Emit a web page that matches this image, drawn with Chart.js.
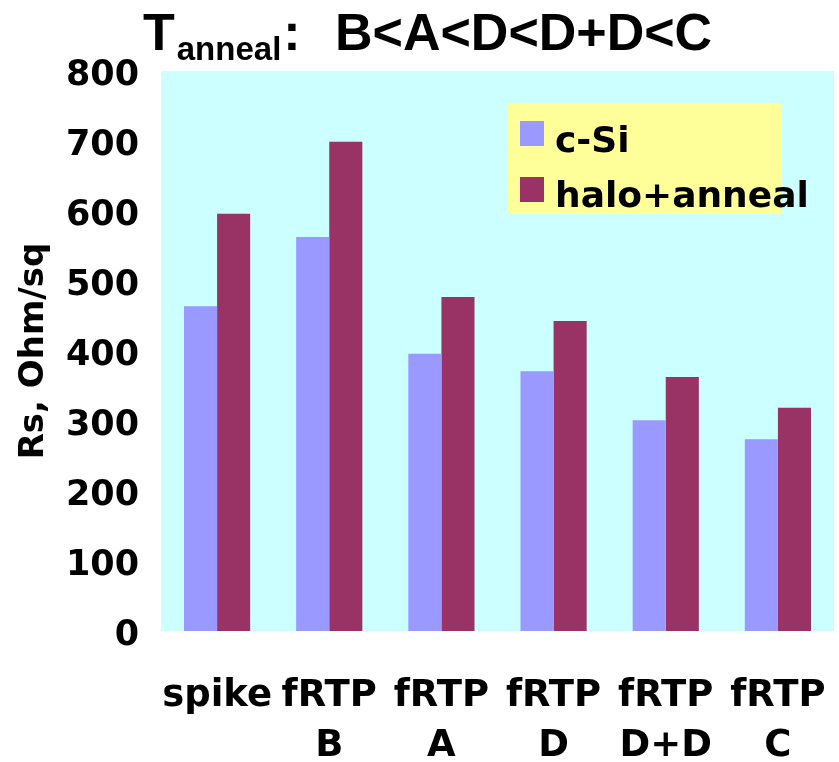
<!DOCTYPE html>
<html>
<head>
<meta charset="utf-8">
<script src="https://cdn.jsdelivr.net/npm/chart.js@4/dist/chart.umd.min.js"></script>
<style>
  html, body { margin: 0; padding: 0; background: #ffffff; }
  #wrap { width: 839px; height: 762px; }
</style>
</head>
<body>
<div id="wrap"><canvas id="c" width="839" height="762"></canvas></div>
<script>
// Sheet resistance per anneal process
const categories = [['spike'], ['fRTP', 'B'], ['fRTP', 'A'], ['fRTP', 'D'], ['fRTP', 'D+D'], ['fRTP', 'C']];
const seriesNames = ['c-Si', 'halo+anneal'];
const cSi = [464, 563, 396, 371, 301, 274];
const haloAnneal = [596, 699, 477, 443, 363, 319];
const yTicks = [0, 100, 200, 300, 400, 500, 600, 700, 800];

const AXIS_FONT = 'DejaVu Sans';
const TITLE_FONT = 'Liberation Sans';

// Cyan plot background
const plotBackground = {
  id: 'plotBackground',
  beforeDraw(chart) {
    const { ctx, chartArea: a } = chart;
    ctx.save();
    ctx.fillStyle = '#ccffff';
    ctx.fillRect(a.left, a.top, a.right - a.left, a.bottom - a.top);
    ctx.restore();
  }
};

// Heading with subscript: T_anneal: B<A<D<D+D<C
const heading = {
  id: 'heading',
  afterDraw(chart) {
    const ctx = chart.ctx;
    ctx.save();
    ctx.fillStyle = '#000000';
    ctx.textBaseline = 'alphabetic';
    ctx.textAlign = 'left';
    let x = 143;
    ctx.font = 'bold 52px "' + TITLE_FONT + '"';
    ctx.fillText('T', x, 50);
    x += ctx.measureText('T').width + 2;
    ctx.font = 'bold 33px "' + TITLE_FONT + '"';
    ctx.fillText('anneal', x, 60);
    x += ctx.measureText('anneal').width + 2;
    ctx.font = 'bold 52px "' + TITLE_FONT + '"';
    ctx.fillText(':', x, 50);
    ctx.fillText('B<A<D<D+D<C', 335, 50);
    ctx.restore();
  }
};

// Legend box inside the plot area
const boxLegend = {
  id: 'boxLegend',
  afterDatasetsDraw(chart) {
    const ctx = chart.ctx;
    ctx.save();
    ctx.fillStyle = '#ffff99';
    ctx.fillRect(508, 103, 274, 111);
    const rows = [{ y: 121, base: 152 }, { y: 177, base: 207 }];
    chart.data.datasets.forEach((ds, i) => {
      const r = rows[i];
      ctx.fillStyle = ds.backgroundColor;
      ctx.fillRect(520, r.y, 24, 25);
      ctx.fillStyle = '#000000';
      ctx.font = 'bold 36px "' + AXIS_FONT + '"';
      ctx.textBaseline = 'alphabetic';
      ctx.textAlign = 'left';
      ctx.fillText(ds.label, 555, r.base);
    });
    ctx.restore();
  }
};

new Chart(document.getElementById('c'), {
  type: 'bar',
  data: {
    labels: categories,
    datasets: [
      { label: seriesNames[0], data: cSi, backgroundColor: '#9999ff' },
      { label: seriesNames[1], data: haloAnneal, backgroundColor: '#993366' }
    ]
  },
  options: {
    responsive: false,
    animation: false,
    devicePixelRatio: 1,
    layout: { padding: { top: 71, right: 5, left: 0, bottom: 0 } },
    datasets: { bar: { categoryPercentage: 0.59, barPercentage: 1.0 } },
    plugins: {
      legend: { display: false },
      tooltip: { enabled: false },
      title: { display: false }
    },
    scales: {
      x: {
        grid: { display: false, drawTicks: false },
        border: { display: false },
        ticks: {
          color: '#000000',
          font: { family: AXIS_FONT, size: 37, weight: 'bold', lineHeight: 1.35 },
          padding: 40,
          maxRotation: 0,
          autoSkip: false
        },
        afterFit(scale) {
          scale.height = 131;
          scale.paddingLeft = 0;
          scale.paddingRight = 0;
        }
      },
      y: {
        min: 0,
        max: 800,
        afterBuildTicks(scale) { scale.ticks = yTicks.map(v => ({ value: v })); },
        grid: { display: false, drawTicks: false },
        border: { display: false },
        ticks: {
          color: '#000000',
          font: { family: AXIS_FONT, size: 35, weight: 'bold' },
          padding: 22,
          labelOffset: 5
        },
        title: {
          display: true,
          text: 'Rs, Ohm/sq',
          color: '#000000',
          font: { family: AXIS_FONT, size: 34, weight: 'bold' },
          padding: { top: 14, bottom: 0 }
        },
        afterFit(scale) {
          scale.width = 161;
          scale.paddingTop = 0;
          scale.paddingBottom = 0;
        }
      }
    }
  },
  plugins: [plotBackground, boxLegend, heading]
});
</script>
</body>
</html>
